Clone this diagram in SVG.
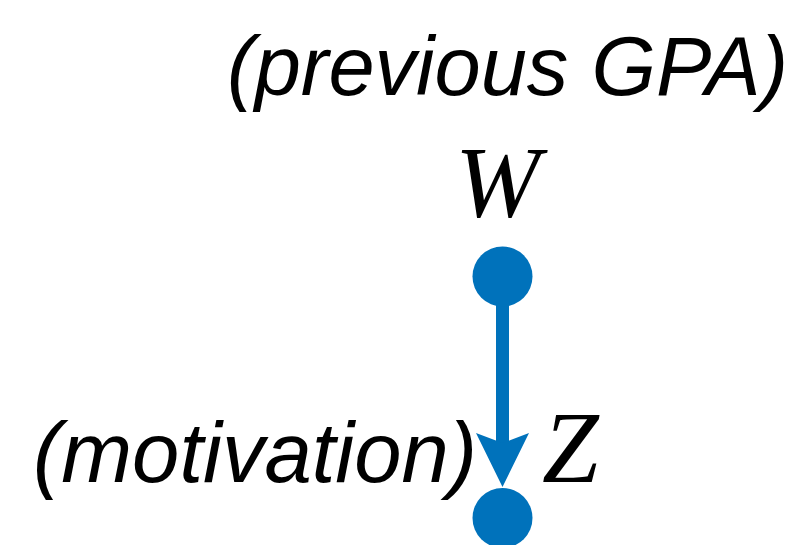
<svg xmlns="http://www.w3.org/2000/svg" width="794" height="545" viewBox="0 0 794 545">
  <style>
    .lbl { font-family: "Liberation Sans", Arial, sans-serif; font-style: italic; font-size: 83px; fill: #000; }
    .lbl-z { font-size: 85px; }
    .var { font-family: "Liberation Serif", "Times New Roman", serif; font-style: italic; font-size: 102px; fill: #000; }
    .node { fill: #0072bb; }
    .edge { stroke: #0072bb; stroke-width: 13; fill: none; }
    .head { fill: #0072bb; }
  </style>
  <g id="connectors">
    <line class="edge" x1="502.5" y1="300" x2="502.5" y2="445"/>
    <path class="head" d="M476,433 L502.5,443 L529,433 L502.5,487 Z"/>
  </g>
  <g id="node-W">
    <circle class="node" cx="502.5" cy="276.5" r="30"/>
    <text class="var" x="455" y="217">W</text>
    <text class="lbl" x="227" y="95">(previous GPA)</text>
  </g>
  <g id="node-Z">
    <circle class="node" cx="502.5" cy="518" r="30"/>
    <text class="var" x="542" y="482">Z</text>
    <text class="lbl lbl-z" x="33" y="482">(motivation)</text>
  </g>
</svg>
